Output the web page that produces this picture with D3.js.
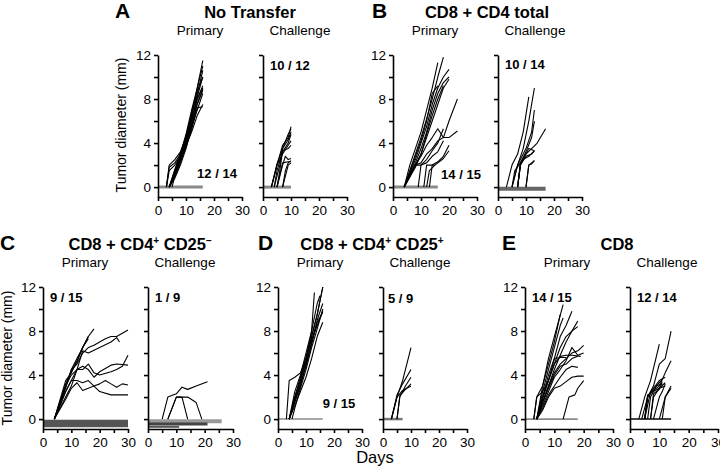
<!DOCTYPE html>
<html>
<head>
<meta charset="utf-8">
<script src="https://cdn.jsdelivr.net/npm/d3@7"></script>
<style>
  body { margin: 0; background: #fff; }
  svg { font-family: "Liberation Sans", Arial, sans-serif; }
</style>
</head>
<body>
<svg id="chart" width="720" height="469"></svg>
<script>
'use strict';

// tumor growth curves, each mouse = list of [day, diameter mm]
let aPrimary = [
    [[3,0],[4,2],[6,2.5],[8,3.2],[10,4.5],[12,6.5],[14,9],[16,11.5]],
    [[3,0],[4,1.8],[6,2.2],[8,3],[10,4],[12,6],[14,8.2],[16,10]],
    [[4,0],[6,1.5],[8,2.8],[10,4.5],[12,6.2],[14,8],[16,9]],
    [[4,0],[6,1.2],[8,2.5],[10,4],[12,5.5],[14,7.5],[16,8.8]],
    [[4,0],[6,1],[8,2.2],[10,3.8],[12,5],[14,6.5],[16,7.5]],
    [[4,0],[6,1.3],[8,2.7],[10,4.3],[12,6.8],[14,8.7],[16,10]],
    [[4,0],[6,0.8],[8,2],[10,3.5],[12,5.5],[14,7],[16,8.5]],
    [[4,0],[6,1.6],[8,3],[10,4.8],[12,7],[14,9],[16,11]],
    [[4,0],[6,1],[8,2.4],[10,3.6],[12,5.2],[14,7.2],[16,7.3]],
    [[5,0],[6,1],[8,2.6],[10,4.2],[12,6],[14,8],[16,9.2]],
    [[4,0],[6,1.4],[8,3.1],[10,4.6],[12,6.5],[14,8.4],[16,10.6]],
    [[3,0],[4,1.5],[6,2],[8,2.8],[10,3.9],[12,5.7],[14,7.6],[16,8.9]]
];
let aChallenge = [
    [[3,0],[5,2],[7,3.8],[9,4.5],[10,5.5]],
    [[3,0],[5,2.1],[7,3.5],[9,4.3],[10,5]],
    [[4,0],[5,1.5],[7,3.2],[9,4],[10,4.8]],
    [[3,0],[5,2],[7,3],[9,3.8],[10,4.2]],
    [[5,0],[6,1.5],[7,3.3],[9,3.5],[10,3.8]],
    [[5,0],[7,2],[8,2.8],[9,2.5],[10,2.6]],
    [[5,0],[7,2.2],[9,2.3],[10,2.3]],
    [[7,0],[9,2],[10,2.2]],
    [[7,0],[8,1.5],[9,2.2],[10,2.4]],
    [[4,0],[6,2],[7,3.5],[9,4.8],[10,5.3]]
];
let bPrimary = [
    [[4,0],[6,2],[8,3.5],[10,5],[12,7],[14,9],[16,11.3]],
    [[4,0],[8,3],[10,4.5],[12,6.2],[14,8],[16,10],[18,11.8]],
    [[4,0],[8,2.5],[10,4],[12,5.5],[14,7.5],[16,9],[18,10],[20,10.7]],
    [[4,0],[8,2.2],[10,3.5],[12,5],[14,7],[16,8.5],[18,9.5],[20,10]],
    [[4,0],[8,2],[10,3],[12,4.5],[14,6],[16,7.5],[18,9],[20,9.8]],
    [[4,0],[8,1.8],[10,3],[12,4.8],[14,6.5],[16,8],[18,9.2]],
    [[4,0],[8,2.8],[10,4.2],[12,6],[14,8.5],[16,9.2]],
    [[4,0],[8,2],[10,2.8],[12,3.8],[14,4.5],[16,5.3],[18,4.5],[20,4.5],[23,5.1]],
    [[4,0],[8,2],[10,2.2],[12,3],[14,3.5],[16,4.2],[18,4.5],[20,6],[23,8]],
    [[4,0],[8,2],[10,2],[12,2.5],[14,3.3],[16,4],[18,5.3]],
    [[9,0],[10,2],[12,2.2],[14,2.8],[16,3.2],[18,4.2]],
    [[11,0],[12,2],[15,2]],
    [[13,0],[14,2],[16,2.3],[18,2.8],[20,3.8]],
    [[12,0],[13,1.5],[15,2],[18,2.6],[20,3.3]]
];
let bChallenge = [
    [[3,0],[5,2],[7,3],[9,5],[11,8.2]],
    [[5,0],[7,2],[9,3.5],[11,6],[13,9]],
    [[5,0],[7,2],[8,2.5],[10,3.5],[12,5],[13,7]],
    [[7,0],[8,2],[10,3],[12,3.5],[14,4],[17,5.3]],
    [[7,0],[8,2],[10,2.8],[12,3],[13,3.3]],
    [[10,0],[11,2],[13,2.4]],
    [[7,0],[8,2.2],[10,3],[11,3.5],[13,3.3]],
    [[5,0],[6,1.5],[8,2.2],[10,3.2],[12,4.5],[13,6]],
    [[7,0],[8,2],[9,2.5],[11,2.8],[13,3.3]],
    [[10,0],[11,2],[12,2.1],[13,2.4]]
];
let cPrimary = [
    [[4,0],[8,3],[10,4.5],[12,5.5],[14,6.5],[16,7.5],[18,8.2]],
    [[4,0],[8,3.2],[10,4.3],[12,5.3],[14,6.5],[16,7.5]],
    [[4,0],[8,3.5],[10,4.2],[12,5.2],[14,6.5],[16,7.3]],
    [[4,0],[8,2.8],[10,4.5],[12,5],[14,6],[16,6.5],[18,6.7],[20,7],[22,7.3],[24,7.5],[26,7.5],[28,7.8],[30,8.1]],
    [[4,0],[8,2.5],[10,3.5],[12,4.5],[14,6.2],[16,6],[20,6.5],[24,7],[26,7.4],[27,7]],
    [[4,0],[8,3],[10,4],[12,4.5],[14,4.5],[16,5],[18,4.2],[20,4],[24,4.3],[26,4.5],[28,4.8],[30,5.8]],
    [[4,0],[8,2],[10,3],[12,4.5],[14,4.8],[16,4.5],[18,3.8],[20,4.3],[24,4.9],[26,5],[30,4.9]],
    [[4,0],[8,2.5],[10,3.5],[12,3.5],[14,3.3],[16,3.5],[18,3],[20,3.2],[22,3.5],[24,3.2],[26,2.9],[28,3.2],[30,3.1]],
    [[4,0],[8,1.8],[10,2.8],[12,3.3],[14,2.6],[16,2.8],[18,3],[20,2.5],[24,2.2],[30,2.2]]
];
let cChallenge = [
    [[5,0],[7,2],[10,2.3],[12,2.9],[14,2.7],[17,3],[21,3.4]],
    [[7,0],[10,2],[14,2],[17,1.5],[19,0]],
    [[7,0],[10,2],[12,2],[14,0]]
];
let dPrimary = [
    [[3,0],[4,3.5],[6,3.8],[8,4.2],[10,5.5],[12,7.5],[14,9.5],[16,12]],
    [[4,0],[6,2],[8,3.5],[10,5.5],[12,8],[13,11.5]],
    [[4,0],[6,2.5],[8,4],[10,6],[12,8],[14,10.5],[15,11.2]],
    [[4,0],[6,1.5],[8,3],[10,5],[12,7],[14,9],[16,10.5]],
    [[4,0],[6,1.8],[8,3.5],[10,5.2],[12,7.5],[14,9.5],[16,12]],
    [[4,0],[6,1.2],[8,2.5],[10,3.8],[12,5.5],[14,7.5],[16,8.8]],
    [[4,0],[6,2],[8,3.8],[10,5.6],[12,7.2],[14,8.5],[16,9.8]],
    [[5,0],[6,1],[8,2.8],[10,4.5],[12,6.5],[14,8.2],[16,10]],
    [[4,0],[6,1.6],[8,3.2],[10,4.8],[12,6.8],[14,8.8],[16,9.7]]
];
let dChallenge = [
    [[3,0],[5,2],[7,3.5],[10,6.5]],
    [[3,0],[5,2.2],[7,3.2],[10,4.5]],
    [[5,0],[6,2],[8,3],[10,3.8]],
    [[5,0],[6,2.1],[8,2.7],[10,3.2]],
    [[3,0],[5,2],[7,2.6],[10,3]]
];
let ePrimary = [
    [[4,0],[6,3],[8,5.5],[10,7.5],[13,10.4]],
    [[3,0],[4,2],[6,3],[8,5],[10,7],[12,9.5]],
    [[4,0],[6,2.5],[8,4.5],[10,6.5],[12,8.5],[13,9.2]],
    [[4,0],[6,2],[8,4],[10,5.5],[12,7.5],[14,8.5],[16,9.8]],
    [[4,0],[6,1.5],[8,3],[10,4.5],[12,5.8],[14,7],[16,8],[18,8.9]],
    [[4,0],[6,2],[8,3.5],[10,5],[12,6.5],[14,7.5],[16,8],[18,8.4]],
    [[4,0],[6,1.8],[8,3.5],[10,5],[12,5.7],[14,5.8],[16,5.8],[19,5.7]],
    [[4,0],[6,1.5],[8,3],[10,4.2],[12,5],[14,5.5],[16,6],[18,6.2],[20,6.7]],
    [[4,0],[6,1.2],[8,2.5],[10,3.8],[12,4.5],[14,5.3],[16,6.5],[18,5.8],[20,6]],
    [[4,0],[6,1.5],[8,2.8],[10,4],[12,4.8],[14,5],[16,5.5],[18,5.7]],
    [[4,0],[6,1],[8,2.2],[10,3],[12,3.8],[14,4.5],[16,4.8],[18,4.7]],
    [[4,0],[6,0.8],[8,2],[10,2.8],[12,3],[14,3.4],[16,3.8],[18,3.9],[20,3.9]],
    [[3,0],[4,2],[6,2.5],[8,3.5],[10,5.5],[12,5.6],[14,5.6]],
    [[13,0],[15,2],[17,2.2],[18,2.8],[20,3.5]]
];
let eChallenge = [
    [[3,0],[5,2],[7,3.5],[10,6.8]],
    [[5,0],[6,2],[8,3],[10,5],[12,5.5],[14,8]],
    [[5,0],[6,2],[8,2.6],[10,3],[12,4.2],[14,5.3]],
    [[5,0],[6,2.2],[8,2.5],[10,2.8],[12,3]],
    [[7,0],[8,2],[10,2.8],[12,3.3]],
    [[7,0],[8,2.3],[10,2.7],[11,3.4]],
    [[5,0],[7,2.5],[9,3],[11,3.2]],
    [[8,0],[10,2],[11,2.5],[12,3.2]],
    [[10,0],[12,2],[14,3]],
    [[11,0],[12,2],[14,2.8]],
    [[4,0],[6,2],[8,2.8],[10,3.5],[12,3.8]],
    [[6,0],[7,2],[9,3],[11,3.6]]
];

// tumor-free mice, drawn as grey bands on/just below zero: [lastDay, offset]
let aPrimaryFree = [[16, 0]];
let aChallengeFree = [[10, 0]];
let bPrimaryFree = [[16, 0]];
let bChallengeFree = [[17, -0.15]];
let cPrimaryFree = [[30, -0.2], [30, -0.4], [30, -0.6]];
let cChallengeFree = [[26, -0.2], [21, -0.45], [11, -0.7]];
let dPrimaryFree = [[16, 0]];
let dChallengeFree = [[7, 0]];
let ePrimaryFree = [[18, 0]];
let eChallengeFree = [[14, 0]];

let letters = ['A', 'B', 'C', 'D', 'E'];
let counts = [['12 / 14', '10 / 12'], ['14 / 15', '10 / 14'], ['9 / 15', '1 / 9'],
              ['9 / 15', '5 / 9'], ['14 / 15', '12 / 14']];
let yTicks = [0, 2, 4, 6, 8, 10, 12];
let xTicks = [0, 5, 10, 15, 20, 25, 30];

let svg = d3.select('#chart');

// layout; freeStyle gives [colour, width] per band
let panels = [
    {x0: 158, top: 55, w: 84, title: [['No Transfer']], cx: 250, lx: 115,
     data: [aPrimary, aChallenge], free: [aPrimaryFree, aChallengeFree],
     freeStyle: [[['#8a8a8a', 3]], [['#8a8a8a', 3]]],
     countPos: [[217, 178, 'middle'], [270, 70, 'start']]},
    {x0: 393, top: 55, w: 84, title: [['CD8 + CD4 total']], cx: 487, lx: 372,
     data: [bPrimary, bChallenge], free: [bPrimaryFree, bChallengeFree],
     freeStyle: [[['#8a8a8a', 3]], [['#666', 4]]],
     countPos: [[461, 179, 'middle'], [505, 69, 'start']]},
    {x0: 43, top: 287, w: 85, title: [['CD8 + CD4'], ['+', 'sup'], [' CD25'], ['\u2013', 'sup']], cx: 140, lx: 0,
     data: [cPrimary, cChallenge], free: [cPrimaryFree, cChallengeFree],
     freeStyle: [[['#555', 3], ['#555', 3], ['#555', 3]],
                 [['#999', 4], ['#444', 3], ['#555', 2]]],
     countPos: [[50, 302, 'start'], [155, 302, 'start']]},
    {x0: 278, top: 287, w: 84, title: [['CD8 + CD4'], ['+', 'sup'], [' CD25'], ['+', 'sup']], cx: 372, lx: 258,
     data: [dPrimary, dChallenge], free: [dPrimaryFree, dChallengeFree],
     freeStyle: [[['#8a8a8a', 1.5]], [['#777', 2.5]]],
     countPos: [[339, 408, 'middle'], [388, 303, 'start']]},
    {x0: 525, top: 287, w: 88, title: [['CD8']], cx: 617, lx: 502,
     data: [ePrimary, eChallenge], free: [ePrimaryFree, eChallengeFree],
     freeStyle: [[['#333', 1]], [['#444', 2]]],
     countPos: [[532, 302, 'start'], [637, 302, 'start']]}
];

let plotH = 142;
let gap = 105;

let line = d3.line();

panels.forEach(function(p, i) {
    let g = svg.append('g');
    // panel letter and title
    g.append('text')
        .attr('x', p.lx)
        .attr('y', p.top - 37)
        .attr('font-size', 21)
        .attr('font-weight', 'bold')
        .text(letters[i]);
    let t = g.append('text')
        .attr('x', p.cx)
        .attr('y', p.top - 37)
        .attr('text-anchor', 'middle')
        .attr('font-size', 16.5)
        .attr('font-weight', 'bold');
    p.title.forEach(function(part) {
        let s = t.append('tspan').text(part[0]);
        if (part[1] === 'sup') {
            s.attr('font-size', 10).attr('dy', -6);
        } else if (t.selectAll('tspan').size() > 1) {
            s.attr('dy', 6);
        }
    });

    ['Primary', 'Challenge'].forEach(function(name, k) {
        let x0 = p.x0 + k * gap;
        let x = d3.scaleLinear().domain([0, 30]).range([x0, x0 + p.w]);
        let y = d3.scaleLinear().domain([-0.9, 12]).range([p.top + plotH, p.top]);

        g.append('text')
            .attr('x', x0 + (k === 0 ? 42 : 37))
            .attr('y', p.top - 20)
            .attr('text-anchor', 'middle')
            .attr('font-size', 13.5)
            .text(name);

        // tumor-free bands
        p.free[k].forEach(function(f, j) {
            let st = p.freeStyle[k][j];
            g.append('path')
                .attr('d', line([[x(0), y(f[1])], [x(f[0]), y(f[1])]]))
                .attr('stroke', st[0])
                .attr('stroke-width', st[1])
                .attr('fill', 'none');
        });

        p.data[k].forEach(function(s) {
            g.append('path')
                .attr('d', line(s.map(d => [x(d[0]), y(d[1])])))
                .attr('fill', 'none')
                .attr('stroke', '#000')
                .attr('stroke-width', 1.1)
                .attr('stroke-linejoin', 'round');
        });

        let ya = g.append('g')
            .attr('transform', 'translate(' + x0 + ',0)')
            .call(d3.axisLeft(y).tickValues(yTicks).tickSize(4).tickSizeOuter(0)
                .tickFormat(d => (k === 0 && d % 4 === 0) ? d : ''));
        let xa = g.append('g')
            .attr('transform', 'translate(0,' + (p.top + plotH) + ')')
            .call(d3.axisBottom(x).tickValues(xTicks).tickSize(4).tickSizeOuter(0)
                .tickFormat(d => d % 10 === 0 ? d : ''));
        [ya, xa].forEach(function(a) {
            a.selectAll('path, line').attr('stroke', '#000').attr('stroke-width', 1.6);
            a.selectAll('text')
                .attr('font-family', '"Liberation Sans", Arial, sans-serif')
                .attr('font-size', 13.5)
                .attr('fill', '#000');
        });
        ya.selectAll('text').attr('x', -7);
        xa.selectAll('text').attr('y', 8);

        let c = p.countPos[k];
        g.append('text')
            .attr('x', c[0])
            .attr('y', c[1])
            .attr('text-anchor', c[2])
            .attr('font-size', 13)
            .attr('font-weight', 'bold')
            .text(counts[i][k]);
    });
});

// axis titles
[[126, 125], [12, 358]].forEach(function(pos) {
    svg.append('text')
        .attr('transform', 'translate(' + pos[0] + ',' + pos[1] + ') rotate(-90)')
        .attr('text-anchor', 'middle')
        .attr('font-size', 14)
        .text('Tumor diameter (mm)');
});

svg.append('text')
    .attr('x', 375)
    .attr('y', 463)
    .attr('text-anchor', 'middle')
    .attr('font-size', 16.5)
    .text('Days');
</script>
</body>
</html>
